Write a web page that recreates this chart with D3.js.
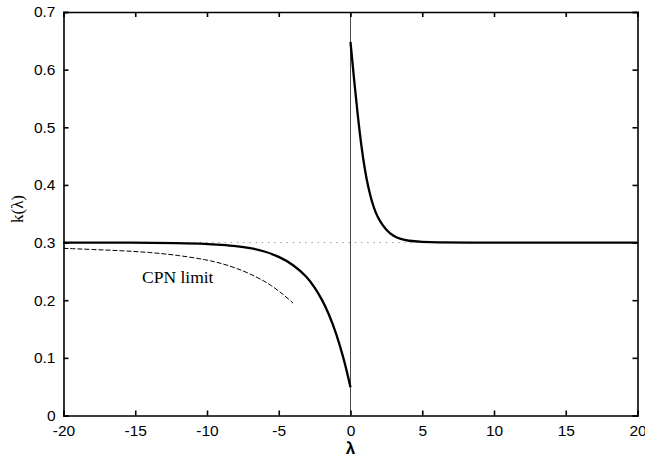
<!DOCTYPE html>
<html>
<head>
<meta charset="utf-8">
<script src="https://cdn.jsdelivr.net/npm/d3@7"></script>
<style>
  body { margin: 0; background: #fff; }
  svg { display: block; }
</style>
</head>
<body>
<svg width="645" height="457"></svg>
<script>
// values
const xTicks = [-20, -15, -10, -5, 0, 5, 10, 15, 20];
const yTicks = [0, 0.1, 0.2, 0.3, 0.4, 0.5, 0.6, 0.7];

// lambda > 0 branch
const rightLam = [0, 0.25, 0.5, 0.75, 1, 1.25, 1.5, 1.75, 2, 2.5, 3, 3.5, 4, 5, 6, 8, 12, 20];
const rightK   = [0.648, 0.582, 0.522, 0.468, 0.426, 0.394, 0.370, 0.352, 0.339, 0.321, 0.311, 0.306, 0.303, 0.301, 0.300, 0.300, 0.300, 0.300];

// lambda < 0 branch
const leftLam = [-20, -15, -12, -10, -9, -8, -7, -6, -5, -4, -3, -2.5, -2, -1.5, -1, -0.5, -0.25, 0];
const leftK   = [0.300, 0.300, 0.299, 0.298, 0.296, 0.294, 0.291, 0.285, 0.276, 0.262, 0.240, 0.222, 0.202, 0.176, 0.143, 0.101, 0.076, 0.049];

// CPN limit (dashed)
const cpnLam = [-20, -18, -16, -14, -12, -10, -9, -8, -7, -6, -5.5, -5, -4.5, -4];
const cpnK   = [0.290, 0.288, 0.286, 0.283, 0.278, 0.270, 0.264, 0.256, 0.246, 0.233, 0.225, 0.216, 0.206, 0.195];

const asymptote = 0.3;

const svg = d3.select("svg");
const margin = {left: 63.5, right: 7.5, top: 12, bottom: 41.5};
const W = 645, H = 457;

const x = d3.scaleLinear().domain([-20, 20]).range([margin.left, W - margin.right]);
const y = d3.scaleLinear().domain([0, 0.7]).range([H - margin.bottom, margin.top]);

const g = svg.append("g");

// dotted asymptote
g.append("line")
    .attr("x1", x(-20)).attr("x2", x(20))
    .attr("y1", y(asymptote)).attr("y2", y(asymptote))
    .attr("stroke", "#888").attr("stroke-width", 1)
    .attr("stroke-dasharray", "1.2,5");

// vertical line at lambda = 0
g.append("line")
    .attr("x1", x(0)).attr("x2", x(0))
    .attr("y1", y(0)).attr("y2", y(0.7))
    .attr("stroke", "#333").attr("stroke-width", 0.9);

const line = d3.line()
    .x(d => x(d[0]))
    .y(d => y(d[1]))
    .curve(d3.curveBasis);

// CPN limit
g.append("path")
    .datum(d3.zip(cpnLam, cpnK))
    .attr("d", line)
    .attr("fill", "none")
    .attr("stroke", "#000").attr("stroke-width", 1)
    .attr("stroke-dasharray", "5,2");

// solid branches
[d3.zip(leftLam, leftK), d3.zip(rightLam, rightK)].forEach(data => {
  g.append("path")
      .datum(data)
      .attr("d", line)
      .attr("fill", "none")
      .attr("stroke", "#000").attr("stroke-width", 2.3);
});

// axes (ticks inward on all four sides)
const tickLen = 5;
const fontTick = "'Liberation Sans', Arial, sans-serif";

const axB = g.append("g").attr("transform", `translate(0,${y(0)})`)
    .call(d3.axisBottom(x).tickValues(xTicks).tickSize(-tickLen).tickPadding(9).tickFormat(d => String(d)));
const axT = g.append("g").attr("transform", `translate(0,${y(0.7)})`)
    .call(d3.axisTop(x).tickValues(xTicks).tickSize(-tickLen).tickFormat(""));
const axL = g.append("g").attr("transform", `translate(${x(-20)},0)`)
    .call(d3.axisLeft(y).tickValues(yTicks).tickSize(-tickLen).tickPadding(8).tickFormat(d => d === 0 ? "0" : d3.format(".1f")(d)));
const axR = g.append("g").attr("transform", `translate(${x(20)},0)`)
    .call(d3.axisRight(y).tickValues(yTicks).tickSize(-tickLen).tickFormat(""));

[axB, axT, axL, axR].forEach(a => {
  a.select(".domain").attr("stroke", "#000").attr("stroke-width", 1.6);
  a.selectAll(".tick line").attr("stroke", "#000").attr("stroke-width", 1.6);
  a.selectAll("text").attr("font-family", fontTick).attr("font-size", 15.5).attr("fill", "#000");
});

// labels
svg.append("text")
    .attr("x", x(0)).attr("y", 454)
    .attr("text-anchor", "middle")
    .attr("font-family", fontTick).attr("font-size", 17).attr("font-weight", "bold")
    .text("λ");

svg.append("text")
    .attr("transform", `translate(23,209) rotate(-90)`)
    .attr("text-anchor", "middle")
    .attr("font-family", "'Liberation Serif', 'Times New Roman', serif").attr("font-size", 17)
    .text("k(λ)");

svg.append("text")
    .attr("x", 142).attr("y", 283)
    .attr("font-family", "'Liberation Serif', 'Times New Roman', serif").attr("font-size", 17.5)
    .text("CPN limit");
</script>
</body>
</html>
